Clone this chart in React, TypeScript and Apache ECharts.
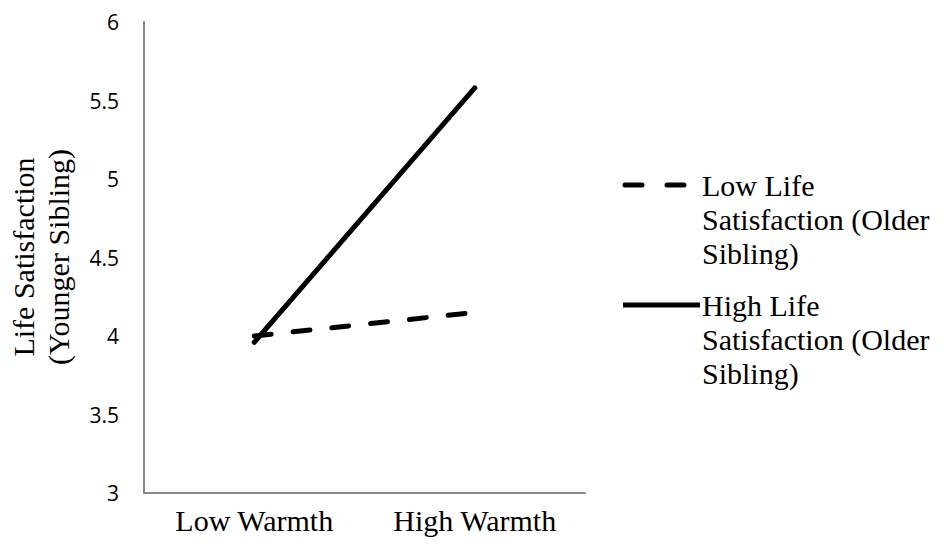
import React, { useEffect, useRef } from "react";
import * as echarts from "echarts";

const categories = ["Low Warmth", "High Warmth"];
const seriesNames = [
  "Low Life\nSatisfaction (Older\nSibling)",
  "High Life\nSatisfaction (Older\nSibling)",
];
const lowOlderValues = [4.0, 4.15];
const highOlderValues = [3.96, 5.58];
const yMin = 3;
const yMax = 6;
const yInterval = 0.5;
const yTitleLines = ["Life Satisfaction", "(Younger Sibling)"];

const SERIF = "Liberation Serif";
const SANS = "Open Sans";

export default function App() {
  const ref = useRef<HTMLDivElement>(null);
  useEffect(() => {
    document.body.style.margin = "0";
    const chart = echarts.init(ref.current!, null, { renderer: "svg" });
    chart.setOption({
      animation: false,
      backgroundColor: "#fff",
      grid: { left: 144, right: 367, top: 22, bottom: 60, containLabel: false },
      xAxis: {
        type: "category",
        data: categories,
        boundaryGap: true,
        axisLine: { lineStyle: { color: "#888", width: 2 } },
        axisTick: { show: false },
        axisLabel: {
          color: "#000",
          fontFamily: SERIF,
          fontSize: 30,
          margin: 12,
        },
      },
      yAxis: {
        type: "value",
        min: yMin,
        max: yMax,
        interval: yInterval,
        splitLine: { show: false },
        axisLine: { show: true, lineStyle: { color: "#888", width: 2 } },
        axisTick: { show: false },
        axisLabel: {
          color: "#000",
          fontFamily: SANS,
          fontSize: 21,
          margin: 25,
        },
      },
      series: [
        {
          name: seriesNames[0],
          type: "line",
          data: lowOlderValues,
          symbol: "none",
          lineStyle: { color: "#000", width: 5, type: [17, 22], cap: "round" },
        },
        {
          name: seriesNames[1],
          type: "line",
          data: highOlderValues,
          symbol: "none",
          lineStyle: { color: "#000", width: 5, type: "solid", cap: "round" },
        },
      ],
      graphic: [
        {
          type: "text",
          x: 23,
          y: 257,
          rotation: Math.PI / 2,
          style: {
            text: yTitleLines[0],
            fontFamily: SERIF,
            fontSize: 30,
            fill: "#000",
            align: "center",
            verticalAlign: "middle",
          },
        },
        {
          type: "text",
          x: 58,
          y: 257,
          rotation: Math.PI / 2,
          style: {
            text: yTitleLines[1],
            fontFamily: SERIF,
            fontSize: 30,
            fill: "#000",
            align: "center",
            verticalAlign: "middle",
          },
        },
        {
          type: "line",
          shape: { x1: 625, y1: 185, x2: 685, y2: 185 },
          style: { stroke: "#000", lineWidth: 5, lineDash: [17, 25], lineCap: "round" },
        },
        {
          type: "text",
          x: 702,
          y: 168,
          style: {
            text: seriesNames[0],
            fontFamily: SERIF,
            fontSize: 30,
            lineHeight: 34,
            fill: "#000",
            align: "left",
            verticalAlign: "top",
          },
        },
        {
          type: "line",
          shape: { x1: 623, y1: 305, x2: 700, y2: 305 },
          style: { stroke: "#000", lineWidth: 5 },
        },
        {
          type: "text",
          x: 702,
          y: 288,
          style: {
            text: seriesNames[1],
            fontFamily: SERIF,
            fontSize: 30,
            lineHeight: 34,
            fill: "#000",
            align: "left",
            verticalAlign: "top",
          },
        },
      ],
    });
    return () => chart.dispose();
  }, []);
  return <div ref={ref} style={{ width: 952, height: 553 }} />;
}
